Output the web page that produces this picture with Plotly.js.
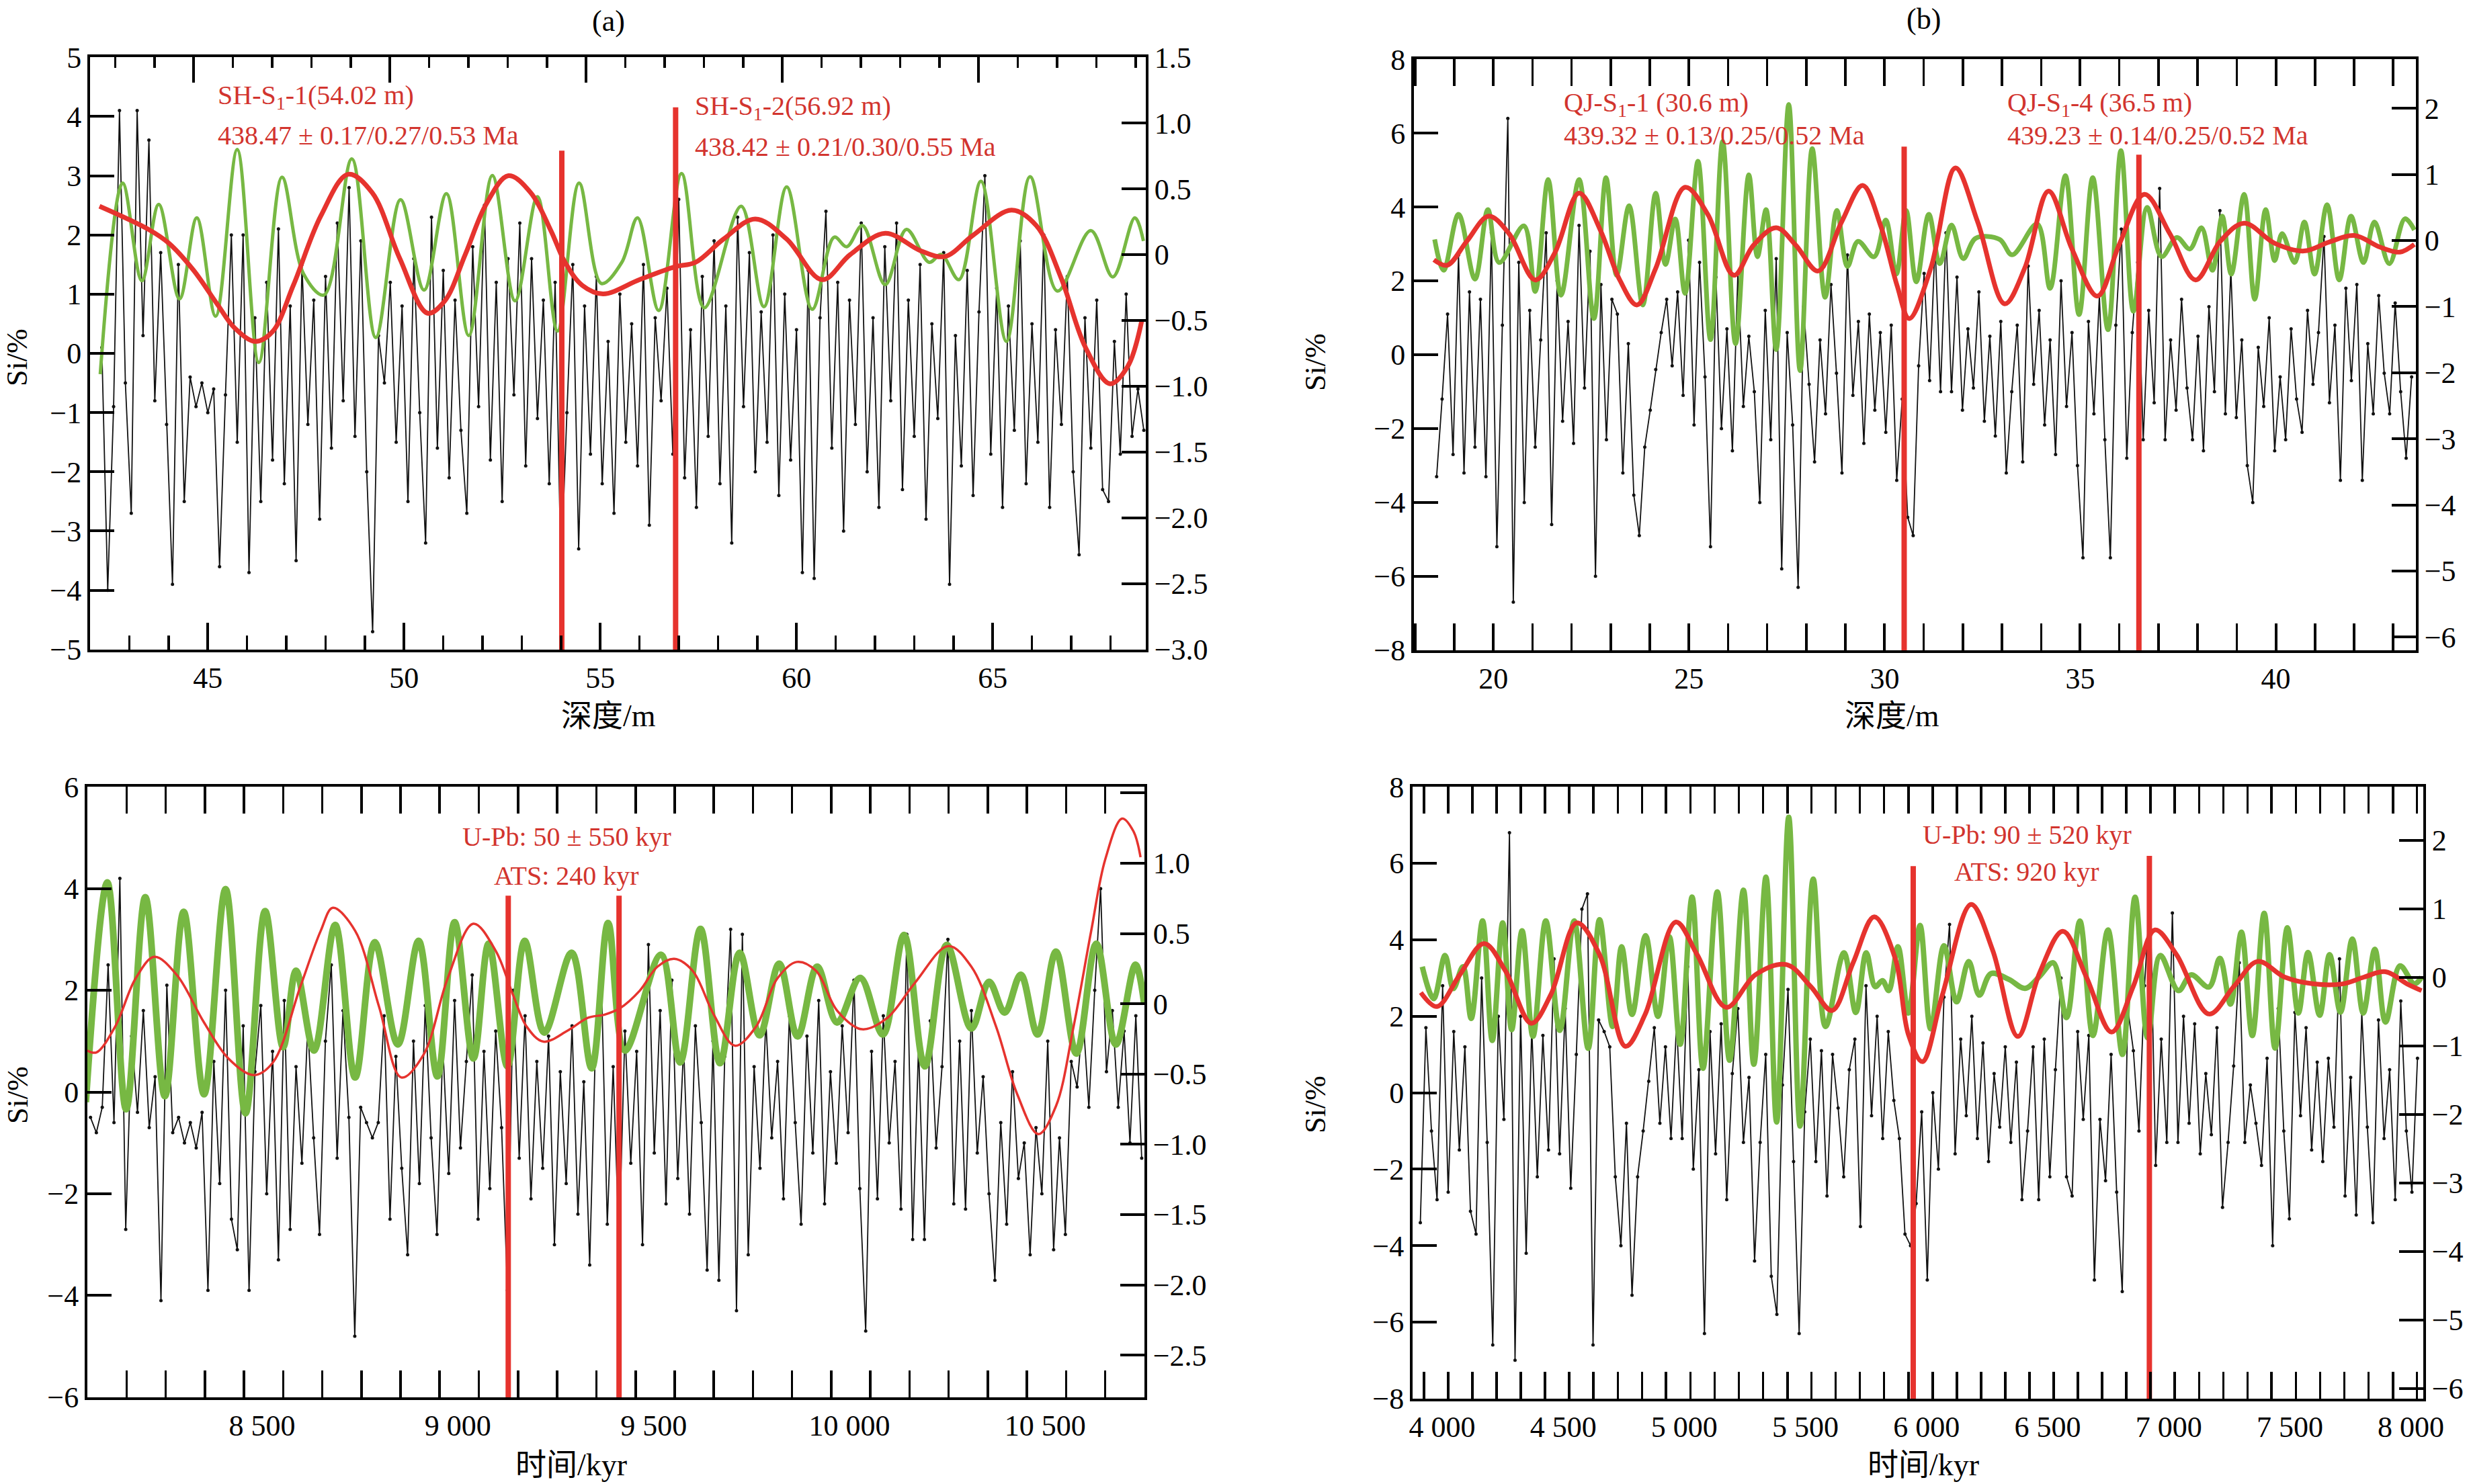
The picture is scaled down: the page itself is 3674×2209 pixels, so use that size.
<!DOCTYPE html>
<html><head><meta charset="utf-8">
<script src="https://cdn.plot.ly/plotly-3.0.1.min.js"></script>
<style>html,body{margin:0;padding:0;background:#fff}#chart{width:3674px;height:2209px}</style>
</head><body><div id="chart"></div>
<script>
// ---------------- DATA ----------------
const aDepthStart = 42.3, aDepthStep = 0.15;
const aSi = [0.1,-4.0,-0.9,4.1,-0.5,-2.7,4.1,0.3,3.6,-0.8,
1.7,-1.2,-3.9,1.5,-2.5,-0.4,-0.9,-0.5,-1.0,-0.6,
-3.6,-0.7,2.0,-1.5,2.0,-3.7,0.6,-2.5,1.2,-1.8,
2.1,-2.2,0.8,-3.5,1.5,-1.2,0.9,-2.8,1.3,-1.6,
2.2,-0.8,2.8,-1.4,1.9,-2.0,-4.7,0.3,-0.5,1.2,
-1.5,0.8,-2.5,1.6,-1.0,-3.2,2.3,-1.6,1.4,-2.1,
0.9,-1.3,-2.7,1.8,-0.9,2.5,-1.8,1.2,-2.5,1.6,
-0.7,2.2,-1.9,1.6,-1.1,0.9,-2.2,1.2,-3.7,-1.0,
1.5,-3.3,0.8,-1.7,1.3,-2.2,0.2,-2.7,1.0,-1.5,
0.5,-1.9,1.5,-2.9,0.6,-0.8,1.1,-1.7,2.6,-2.1,
0.4,-2.6,1.3,-1.4,1.9,-2.2,0.8,-3.2,2.3,-0.9,
1.7,-2.0,0.7,-1.5,2.0,-2.4,1.0,-1.8,0.4,-3.7,
1.4,-3.8,0.6,2.4,-1.6,1.2,-3.0,0.9,-1.2,2.2,
-2.0,0.6,-2.6,1.8,-0.8,2.2,-2.3,0.9,-1.4,1.5,
-2.8,0.5,-1.1,1.7,-3.9,0.3,-1.9,1.4,-2.4,0.7,
3.0,-1.7,1.1,-2.6,0.8,-1.3,1.9,-2.2,0.5,-1.5,
2.0,-2.6,0.4,-1.2,1.3,-2.0,-3.4,0.6,-1.6,0.9,
-2.3,-2.5,0.2,-1.7,1.0,-1.4,-0.6,-1.3];
const aGreenDepth = [42.26,42.83,43.32,43.75,44.28,44.72,45.2,45.75,46.3,46.89,47.44,47.96,48.67,49.28,49.91,50.51,51.08,51.65,52.25,52.83,53.4,53.91,54.46,55.03,55.55,55.95,56.49,57.07,57.65,58.59,59.17,59.75,60.4,60.96,61.28,61.68,62.26,62.8,63.38,63.69,64.14,64.7,65.35,65.95,66.65,67.5,68.06,68.62,68.84];
const aGreenVal = [-0.908,0.544,-0.198,0.382,-0.336,0.28,-0.468,0.799,-0.82,0.588,-0.146,-0.307,0.728,-0.63,0.418,-0.269,0.464,-0.615,0.602,-0.351,0.441,-0.58,0.544,-0.219,-0.058,0.28,-0.424,0.617,-0.404,0.368,-0.395,0.514,-0.415,0.133,0.06,0.221,-0.228,0.192,-0.058,0.001,-0.19,0.558,-0.659,0.593,-0.277,0.183,-0.169,0.28,0.104];
const aRedDepth = [42.24,43.49,44.0,44.63,45.25,45.68,46.21,46.65,47.18,47.88,48.58,49.19,49.89,50.6,51.04,51.56,52.09,52.66,53.23,53.75,54.1,54.54,55.07,56.0,56.89,57.43,58.14,58.95,59.75,60.65,61.37,62.26,63.16,63.78,64.5,65.48,66.11,66.74,67.36,67.99,68.44,68.8];
const aRedVal = [0.368,0.192,0.089,-0.116,-0.38,-0.556,-0.659,-0.585,-0.233,0.294,0.611,0.47,-0.028,-0.445,-0.351,0.001,0.382,0.6,0.47,0.177,-0.057,-0.233,-0.298,-0.19,-0.093,-0.058,0.118,0.271,0.118,-0.19,0.001,0.162,0.03,-0.014,0.148,0.338,0.221,-0.175,-0.703,-0.981,-0.849,-0.497];
const aMarkDepth = [54.02, 56.92];
const aMarkTop = [0.79, 1.12];
const aTicks = {x: 5, xMinor: 1, y: 1, y2: 0.5, topOffset: 0.36};

const bDepthStart = 18.55, bDepthStep = 0.14;
const bSi = [-3.3,-1.2,1.1,-2.7,2.7,-3.2,1.7,-2.5,1.5,-3.3,
3.3,-5.2,0.8,6.4,-6.7,2.5,-4.0,1.2,-2.5,0.4,
3.3,-4.6,2.0,-1.8,0.9,-2.4,3.5,-0.9,2.8,-6.0,
1.9,-2.3,1.5,1.1,-3.2,0.3,-3.8,-4.9,-2.5,-1.5,
-0.4,0.6,1.5,-0.3,1.7,-1.1,3.1,-1.9,2.5,-0.6,
-5.2,2.1,-2.0,0.7,-2.6,2.2,-1.4,0.5,-1.0,-4.0,
1.2,-2.3,2.6,-5.8,0.6,-1.9,-6.3,1.3,-0.8,-2.9,
0.4,-1.6,1.9,-0.5,-3.2,2.7,-1.1,0.9,-2.4,1.1,
-1.5,0.6,-2.1,0.8,-3.4,-1.2,-4.4,-4.9,-0.3,2.2,
-0.7,3.0,-1.0,3.3,-1.0,2.1,-1.5,0.7,-0.9,1.7,
-1.8,0.5,-2.2,0.9,-3.2,-1.0,0.8,-2.9,2.4,-0.8,
1.2,-1.9,0.4,-2.7,2.0,-1.4,0.6,-3.0,-5.5,0.9,
-1.6,1.6,-2.3,-5.5,0.8,3.4,-2.8,0.6,2.5,-2.3,
1.2,-1.3,4.5,-2.3,0.4,-1.5,1.5,-0.9,-2.3,0.5,
-2.6,1.3,-1.0,3.9,-1.6,2.3,-1.7,0.4,-3.0,-4.0,
0.2,-1.4,1.0,-2.6,-0.6,-2.3,0.7,-1.2,-2.1,1.2,
-0.8,0.6,3.2,-1.3,0.8,-3.4,1.8,-0.7,1.9,-3.4,
0.3,-1.6,1.6,-0.5,-1.6,1.4,-1.0,-2.8,-0.6];
const bGreenDepth = [18.5,18.73,19.11,19.53,19.86,20.15,20.78,21.07,21.4,21.73,22.19,22.57,22.88,23.15,23.47,23.82,24.15,24.4,24.65,24.9,25.23,25.55,25.86,26.19,26.53,26.75,26.97,27.23,27.55,27.84,28.15,28.48,28.78,29.05,29.32,29.73,30.03,30.3,30.55,30.81,31.13,31.41,31.71,32.01,32.33,32.94,33.26,33.9,34.23,34.62,34.97,35.32,35.71,36.04,36.36,36.71,37.08,37.47,37.8,38.1,38.38,38.63,38.86,39.19,39.46,39.74,39.97,40.16,40.48,40.73,40.99,41.31,41.62,41.92,42.24,42.52,42.9,43.3,43.54];
const bGreenVal = [0.018,-0.45,0.397,-0.584,0.467,-0.333,0.222,-0.771,0.923,-0.829,0.923,-1.18,0.952,-0.526,0.526,-0.976,0.718,-0.362,0.327,-0.8,1.2,-1.5,1.5,-1.56,0.993,-0.245,0.467,-1.65,2.06,-1.97,1.39,-0.859,0.455,-0.391,-0.012,-0.245,0.31,-0.508,0.455,-0.625,0.397,-0.35,0.234,-0.274,0.035,0.018,-0.216,0.251,-0.724,0.981,-1.12,0.952,-1.35,1.36,-1.07,0.502,-0.245,0.047,-0.128,0.193,-0.45,0.368,-0.508,0.7,-0.888,0.467,-0.304,0.105,-0.333,0.28,-0.508,0.543,-0.596,0.368,-0.333,0.28,-0.35,0.33,0.16];
const bRedDepth = [18.48,18.82,19.32,19.88,20.4,21.07,21.57,22.19,22.73,23.23,23.67,24.15,24.9,25.48,26.15,26.65,27.23,27.73,28.3,28.9,29.44,29.9,30.32,30.63,31.18,31.81,32.38,33.07,33.58,34.19,34.79,35.44,35.99,36.64,37.29,37.95,38.58,39.19,39.97,40.72,41.36,42.01,42.66,43.17,43.54];
const bRedVal = [-0.292,-0.374,-0.012,0.368,0.105,-0.596,-0.187,0.718,0.164,-0.596,-0.975,-0.42,0.806,0.397,-0.526,-0.07,0.193,-0.07,-0.461,0.28,0.835,0.222,-0.683,-1.18,-0.42,1.098,0.28,-0.958,-0.42,0.747,-0.128,-0.841,-0.07,0.7,0.105,-0.596,-0.012,0.263,-0.041,-0.158,-0.023,0.076,-0.099,-0.175,-0.058];
const bMarkDepth = [30.5, 36.5];
const bMarkTop = [1.42, 1.30];
const bTicks = {x: 5, xMinor: 1, y: 2, y2: 1};

const cTimeStart = 8108, cTimeStep = 15;
const cSi = [-0.5,-0.8,-0.3,2.5,-0.6,4.2,-2.7,1.1,-0.4,1.6,
-0.7,0.3,-4.1,2.1,-0.8,-0.5,-1.0,-0.6,-1.1,-0.4,
-3.9,0.6,-1.8,2.0,-2.5,-3.1,1.3,-3.9,0.4,1.7,
-2.0,0.8,-3.3,1.8,-2.7,0.5,-1.4,1.3,-0.9,-2.8,
1.0,2.5,-1.3,1.6,-0.5,-4.8,-0.3,-0.6,-0.9,-0.6,
1.5,-2.5,0.7,-1.5,-3.2,1.0,-1.8,1.7,-0.9,-2.8,
0.9,-1.6,1.8,-1.1,0.6,2.3,-2.5,0.8,-1.9,1.2,
-0.7,-3.9,2.0,-1.3,1.5,-2.1,0.6,-1.5,1.1,-3.0,
0.4,-1.8,1.3,-2.4,0.2,-3.4,1.0,2.2,-2.6,0.5,
-3.0,1.2,-1.4,0.8,-3.0,2.9,-1.2,1.6,-2.2,2.2,
-1.7,0.9,-2.4,1.3,-0.6,-3.5,1.0,-3.7,0.7,3.2,
-4.3,3.1,-3.2,0.5,-1.5,1.4,-0.9,0.6,-2.1,1.5,
-0.6,-2.6,1.1,-1.2,1.8,-2.2,0.4,-1.4,1.3,-0.8,
2.2,-1.9,-4.7,0.8,-2.1,1.5,-1.0,0.6,-2.3,3.1,
-2.9,0.9,-2.9,1.4,-1.1,0.5,3.0,-2.2,1.0,-2.3,
1.6,-1.2,0.3,-2.0,-3.7,-0.6,-2.6,0.4,-1.7,-1.0,
-3.2,-0.7,-2.0,1.0,-3.1,-0.9,-2.8,0.6,0.1,1.5,
-0.3,2.0,4.0,0.4,1.6,-0.3,1.2,-1.0,1.5,-1.3];
const cGreenTime = [8096,8151,8199,8248,8298,8346,8398,8453,8504,8554,8600,8633,8679,8733,8784,8834,8893,8946,8994,9038,9086,9125,9173,9217,9267,9337,9388,9430,9473,9565,9614,9666,9716,9766,9817,9867,9914,9964,10015,10074,10132,10186,10239,10295,10358,10403,10443,10484,10527,10574,10626,10677,10727,10777,10799];
const cGreenVal = [-0.7,0.864,-0.751,0.759,-0.657,0.655,-0.643,0.816,-0.779,0.66,-0.309,0.235,-0.332,0.561,-0.524,0.439,-0.289,0.448,-0.516,0.581,-0.388,0.428,-0.445,0.448,-0.204,0.363,-0.459,0.575,-0.332,0.349,-0.417,0.533,-0.422,0.363,-0.224,0.286,-0.232,0.264,-0.133,0.184,-0.218,0.49,-0.445,0.419,-0.176,0.156,-0.062,0.207,-0.218,0.371,-0.354,0.428,-0.289,0.278,0.009];
const cRedTime = [8100,8123,8171,8223,8271,8328,8398,8460,8525,8574,8644,8696,8727,8784,8845,8902,8959,9020,9086,9143,9187,9222,9265,9327,9379,9421,9459,9511,9556,9599,9646,9700,9754,9808,9862,9912,9961,10015,10078,10141,10214,10299,10358,10421,10475,10529,10574,10619,10664,10700,10743,10772,10790];
const cRedVal = [-0.332,-0.346,-0.162,0.179,0.334,0.207,-0.133,-0.388,-0.507,-0.417,0.122,0.519,0.683,0.519,-0.02,-0.524,-0.36,0.179,0.57,0.377,0.065,-0.162,-0.269,-0.19,-0.099,-0.077,-0.034,0.094,0.264,0.32,0.235,-0.077,-0.298,-0.162,0.179,0.298,0.235,-0.048,-0.181,-0.105,0.15,0.411,0.264,-0.162,-0.643,-0.927,-0.728,-0.162,0.519,1.029,1.318,1.227,1.043];
const cMarkTime = [9175, 9458];
const cMarkTop = [0.77, 0.77];
const cTicks = {x: 500, xMinor: 100, y: 2, y2: 0.5};

const dTimeStart = 3985, dTimeStep = 23;
const dSi = [-3.4,1.7,-1.0,-2.8,2.8,-2.6,1.6,-1.5,1.2,-3.1,
-3.7,3.0,-1.3,-6.6,2.0,-0.7,6.8,-7.0,2.0,-4.2,
1.7,-2.2,1.5,-1.5,3.5,-1.6,2.2,-2.5,1.0,4.8,
5.2,-6.6,1.9,1.6,1.2,-2.2,-4.0,-0.8,-5.3,-2.2,
-1.0,0.3,1.7,-0.8,1.2,-1.2,1.8,-1.2,3.3,-2.0,
0.6,-6.3,1.6,-1.6,1.8,-2.8,0.5,2.2,-1.3,0.4,
-4.4,-1.3,1.0,-4.8,-5.8,0.2,2.7,-1.8,-6.3,-0.5,
1.4,-1.8,1.1,-2.7,1.0,-0.4,-2.2,0.6,1.4,-3.5,
2.8,-0.6,2.0,-1.2,1.6,-0.2,-1.2,-3.7,-4.0,-2.9,
-0.5,-4.9,0.0,-2.0,2.5,4.4,-1.6,1.4,-0.6,2.0,
-1.2,1.3,-1.8,0.5,-0.9,1.2,-1.3,0.8,-2.8,-1.0,
1.2,-2.8,1.4,-2.2,0.6,3.0,-2.2,-2.7,1.6,-0.7,
1.5,-4.9,-0.7,-2.3,1.0,-2.6,-5.2,2.2,1.1,-1.0,
2.8,5.2,-1.9,1.4,-1.3,4.7,-1.3,2.0,-0.8,1.8,
-1.6,0.5,-1.1,1.7,-3.0,-1.3,0.7,3.4,-1.3,0.2,
-0.8,-1.9,0.9,-4.0,2.2,-1.0,-3.3,2.1,-0.6,1.7,
-1.5,0.8,-1.8,0.9,-0.9,3.5,-2.7,0.4,-3.2,2.1,
-0.9,-3.4,1.9,-1.2,0.6,-2.8,2.4,-1.0,-2.6,0.9];
const dGreenTime = [3993,4040,4087,4121,4161,4195,4242,4282,4325,4362,4405,4450,4503,4561,4620,4678,4725,4779,4816,4859,4915,4966,5013,5058,5107,5152,5211,5262,5319,5362,5412,5456,5506,5553,5607,5658,5734,5783,5826,5863,5893,5919,5957,6000,6048,6092,6147,6199,6249,6293,6341,6415,6482,6542,6598,6653,6708,6762,6824,6884,6936,6988,7040,7115,7167,7241,7286,7330,7375,7420,7469,7514,7565,7610,7650,7698,7739,7784,7833,7878,7926,7970,8030,8089,8119];
const dGreenVal = [0.153,-0.312,0.316,-0.166,0.154,-0.602,0.822,-0.922,0.793,-0.765,0.677,-0.864,0.822,-0.777,0.822,-1.038,0.84,-0.719,0.444,-0.544,0.607,-0.573,0.589,-0.98,1.171,-1.329,1.247,-1.213,1.27,-1.271,1.462,-2.114,2.334,-2.172,1.433,-0.719,0.357,-0.515,0.357,-0.137,-0.05,-0.195,0.444,-0.524,0.755,-0.753,0.46,-0.36,0.23,-0.262,0.053,-0.032,-0.163,0.014,0.211,-0.589,0.82,-0.852,0.689,-1.127,1.168,-0.885,0.316,-0.196,0.034,-0.143,0.276,-0.393,0.657,-0.852,0.932,-1.035,0.722,-0.524,0.361,-0.556,0.329,-0.511,0.558,-0.524,0.407,-0.655,0.165,-0.098,0.001];
const dRedTime = [3987,4054,4148,4248,4336,4443,4524,4631,4725,4832,4913,5040,5128,5248,5369,5497,5597,5685,5772,5859,5946,6000,6058,6140,6259,6348,6452,6542,6638,6735,6839,6929,7018,7107,7241,7345,7442,7554,7673,7792,7881,7970,8059,8119];
const dRedVal = [-0.224,-0.428,0.037,0.491,0.095,-0.672,-0.253,0.793,0.328,-1.009,-0.544,0.805,0.328,-0.44,0.037,0.183,-0.137,-0.486,0.212,0.88,0.27,-0.835,-1.232,-0.262,1.063,0.394,-0.865,0.066,0.67,0.001,-0.8,-0.13,0.69,0.329,-0.537,-0.13,0.23,0.001,-0.098,-0.098,0.001,0.08,-0.098,-0.196];
const dMarkTime = [6020, 6995];
const dMarkTop = [1.62, 1.77];
const dTicks = {x: 500, xMinor: 100, y: 2, y2: 1};

// ---------------- STYLE / LAYOUT ----------------
const W = 3674, H = 2209;
const fx = p => p / W, fy = p => 1 - p / H;
const serif = 'Liberation Serif, Times New Roman, serif';
const cjk = 'Liberation Serif, Noto Sans CJK SC, serif';
const BLACK = '#111111', GREEN = '#77B843', RED = '#E6332E', TXTRED = '#D2342E';

const grid = (start, step, n) => Array.from({length: n}, (_, i) => +(start + i * step).toFixed(4));

const ranges = {
  ax: [42.0, 68.9], ay: [-5.002, 5.002], ay2: [-3.001, 1.501],
  bx: [17.97, 43.58], by: [-8.004, 8.004], by2: [-6.2, 2.745],
  cx: [8100, 10800], cy: [-6.003, 6.003], cy2: [-2.8, 1.545],
  dx: [3953, 8126], dy: [-8.004, 8.004], dy2: [-6.15, 2.78]
};

function raw(x, y, xa, ya) {
  return {type: 'scatter', mode: 'lines+markers', x, y, xaxis: xa, yaxis: ya,
    line: {color: BLACK, width: 1.8}, marker: {color: BLACK, size: 5}, hoverinfo: 'skip', showlegend: false};
}
function curve(x, y, xa, ya, color, width) {
  return {type: 'scatter', mode: 'lines', x, y, xaxis: xa, yaxis: ya,
    line: {color, width, shape: 'spline', smoothing: 1}, hoverinfo: 'skip', showlegend: false};
}
function marks(xs, tops, bottom, xa, ya) {
  return xs.map((x, i) => ({type: 'scatter', mode: 'lines', x: [x, x], y: [bottom, tops[i]],
    xaxis: xa, yaxis: ya, line: {color: RED, width: 8}, hoverinfo: 'skip', showlegend: false}));
}

const traces = [
  raw(grid(aDepthStart, aDepthStep, aSi.length), aSi, 'x', 'y'),
  curve(aGreenDepth, aGreenVal, 'x', 'y2', GREEN, 5),
  curve(aRedDepth, aRedVal, 'x', 'y2', RED, 7),
  ...marks(aMarkDepth, aMarkTop, ranges.ay2[0], 'x', 'y2'),
  {type: 'scatter', mode: 'lines', x: [null], y: [null], xaxis: 'x5', yaxis: 'y', showlegend: false, hoverinfo: 'skip'},

  raw(grid(bDepthStart, bDepthStep, bSi.length), bSi, 'x2', 'y3'),
  curve(bGreenDepth, bGreenVal, 'x2', 'y4', GREEN, 7),
  curve(bRedDepth, bRedVal, 'x2', 'y4', RED, 7),
  ...marks(bMarkDepth, bMarkTop, ranges.by2[0], 'x2', 'y4'),

  raw(grid(cTimeStart, cTimeStep, cSi.length), cSi, 'x3', 'y5'),
  curve(cGreenTime, cGreenVal, 'x3', 'y6', GREEN, 10),
  curve(cRedTime, cRedVal, 'x3', 'y6', RED, 3.5),
  ...marks(cMarkTime, cMarkTop, ranges.cy2[0], 'x3', 'y6'),

  raw(grid(dTimeStart, dTimeStep, dSi.length), dSi, 'x4', 'y7'),
  curve(dGreenTime, dGreenVal, 'x4', 'y8', GREEN, 8),
  curve(dRedTime, dRedVal, 'x4', 'y8', RED, 7),
  ...marks(dMarkTime, dMarkTop, ranges.dy2[0], 'x4', 'y8')
];

function frame() {
  return {showline: true, linewidth: 4, linecolor: '#000', showgrid: false, zeroline: false,
    ticks: 'inside', tickwidth: 4, tickcolor: '#000', tickmode: 'linear', tick0: 0,
    tickfont: {family: serif, size: 44, color: '#000'}};
}
function minorTicks(dtick, len, width) {
  return {tickmode: 'linear', tick0: 0, dtick, ticks: 'inside', ticklen: len, tickwidth: width, tickcolor: '#000', showgrid: false};
}
function xAx(dom, anchor, range, dtick, minorD, fmt, shift, mirror) {
  const o = Object.assign(frame(), {domain: dom, anchor, range, dtick, ticklen: 40, mirror,
    minor: minorTicks(minorD, 21, 3.5)});
  if (fmt) o.tickformat = fmt;
  if (shift) o.ticklabelshift = shift;
  return o;
}
function yAx(dom, anchor, range, dtick) {
  return Object.assign(frame(), {domain: dom, anchor, range, dtick, ticklen: 36, mirror: false,
    minor: minorTicks(dtick, 36, 4)});
}
function y2Ax(over, anchor, range, dtick, fmt, alias) {
  const o = Object.assign(frame(), {overlaying: over, side: 'right', anchor, range, dtick, ticklen: 36, mirror: false,
    minor: minorTicks(dtick, 36, 4)});
  if (fmt) o.tickformat = fmt;
  if (alias) o.labelalias = alias;
  return o;
}

const domA = {x: [fx(134), fx(1705)], y: [fy(967), fy(85)]};
const domB = {x: [fx(2104), fx(3595)], y: [fy(968), fy(88)]};
const domC = {x: [fx(130), fx(1703)], y: [fy(2080), fy(1171)]};
const domD = {x: [fx(2102), fx(3606)], y: [fy(2082), fy(1171)]};

const layout = {
  width: W, height: H, autosize: false,
  font: {family: serif, size: 44, color: '#000'},
  separators: '. ',
  margin: {l: 0, r: 0, t: 0, b: 0, pad: 0},
  paper_bgcolor: '#fff', plot_bgcolor: 'rgba(0,0,0,0)',
  showlegend: false,
  xaxis: xAx(domA.x, 'y', ranges.ax, aTicks.x, aTicks.xMinor, null, 0, true),
  // top tick row of panel (a) sits slightly left of the bottom one, as in the source figure
  xaxis5: Object.assign(frame(), {overlaying: 'x', side: 'top', anchor: 'y', showline: false,
    range: [ranges.ax[0] + aTicks.topOffset, ranges.ax[1] + aTicks.topOffset], dtick: aTicks.x, ticklen: 38,
    showticklabels: false, minor: minorTicks(aTicks.xMinor, 16, 3.5)}),
  yaxis: yAx(domA.y, 'x', ranges.ay, aTicks.y),
  yaxis2: y2Ax('y', 'x', ranges.ay2, aTicks.y2, '.1f', {'0.0': '0'}),

  xaxis2: xAx(domB.x, 'y3', ranges.bx, bTicks.x, bTicks.xMinor, null, 0, 'allticks'),
  yaxis3: yAx(domB.y, 'x2', ranges.by, bTicks.y),
  yaxis4: y2Ax('y3', 'x2', ranges.by2, bTicks.y2, null, null),

  xaxis3: xAx(domC.x, 'y5', ranges.cx, cTicks.x, cTicks.xMinor, ',d', 27, 'allticks'),
  yaxis5: yAx(domC.y, 'x3', ranges.cy, cTicks.y),
  yaxis6: y2Ax('y5', 'x3', ranges.cy2, cTicks.y2, '.1f', {'0.0': '0', '1.5': ' '}),

  xaxis4: xAx(domD.x, 'y7', ranges.dx, dTicks.x, dTicks.xMinor, ',d', 27, 'allticks'),
  yaxis7: yAx(domD.y, 'x4', ranges.dy, dTicks.y),
  yaxis8: y2Ax('y7', 'x4', ranges.dy2, dTicks.y2, null, null),

  annotations: []
};

function note(text, x, y, opts) {
  layout.annotations.push(Object.assign({text, x: fx(x), y: fy(y), xref: 'paper', yref: 'paper',
    showarrow: false, xanchor: 'center', yanchor: 'middle', borderpad: 0,
    font: {family: serif, size: 44, color: '#000'}}, opts || {}));
}
note('(a)', 905, 31);
note('(b)', 2862, 28);
const cjkFont = {family: cjk, size: 46, color: '#000'};
note('深度/m', 905, 1065, {font: cjkFont});
note('深度/m', 2815, 1065, {font: cjkFont});
note('时间/kyr', 850, 2180, {font: cjkFont});
note('时间/kyr', 2862, 2180, {font: cjkFont});
note('Si/%', 26, 532, {textangle: -90});
note('Si/%', 1957, 539, {textangle: -90});
note('Si/%', 26, 1630, {textangle: -90});
note('Si/%', 1957, 1644, {textangle: -90});
const redFont = {family: serif, size: 40, color: TXTRED};
note('SH-S<sub>1</sub>-1(54.02 m)', 323, 144, {xanchor: 'left', font: redFont});
note('438.47 ± 0.17/0.27/0.53 Ma', 323, 202, {xanchor: 'left', font: redFont});
note('SH-S<sub>1</sub>-2(56.92 m)', 1033, 160, {xanchor: 'left', font: redFont});
note('438.42 ± 0.21/0.30/0.55 Ma', 1033, 218, {xanchor: 'left', font: redFont});
note('QJ-S<sub>1</sub>-1 (30.6 m)', 2326, 155, {xanchor: 'left', font: redFont});
note('439.32 ± 0.13/0.25/0.52 Ma', 2326, 202, {xanchor: 'left', font: redFont});
note('QJ-S<sub>1</sub>-4 (36.5 m)', 2986, 155, {xanchor: 'left', font: redFont});
note('439.23 ± 0.14/0.25/0.52 Ma', 2986, 202, {xanchor: 'left', font: redFont});
note('U-Pb: 50 ± 550 kyr', 843, 1245, {font: redFont});
note('ATS: 240 kyr', 843, 1303, {font: redFont});
note('U-Pb: 90 ± 520 kyr', 3016, 1242, {font: redFont});
note('ATS: 920 kyr', 3016, 1297, {font: redFont});

Plotly.newPlot('chart', traces, layout, {displayModeBar: false, staticPlot: true});
</script></body></html>
